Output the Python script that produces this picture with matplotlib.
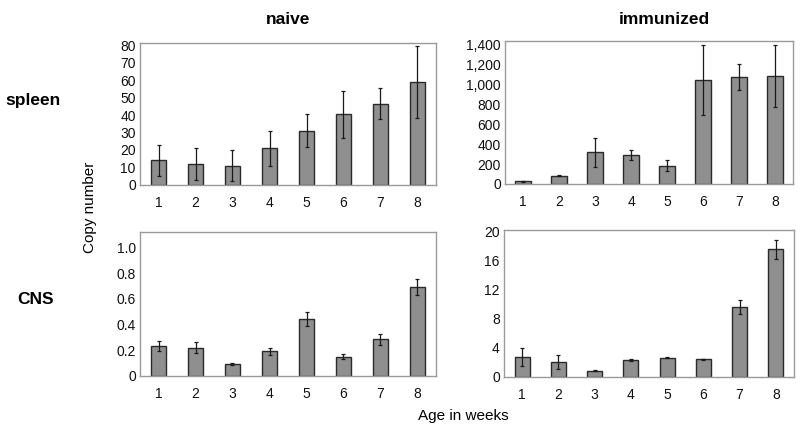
import matplotlib
matplotlib.use("Agg")
import matplotlib.pyplot as plt

plt.rcParams['font.family'] = ['Liberation Sans', 'DejaVu Sans']

weeks = [1, 2, 3, 4, 5, 6, 7, 8]
week_labels = ["1", "2", "3", "4", "5", "6", "7", "8"]

naive_spleen = [14, 12, 11, 21, 31, 40.5, 46.5, 59]
naive_spleen_err = [9, 9, 9, 10, 9.5, 13.5, 9, 20.5]
imm_spleen = [30, 85, 320, 290, 185, 1045, 1075, 1085]
imm_spleen_err = [5, 8, 145, 50, 55, 350, 135, 310]
naive_cns = [0.235, 0.22, 0.09, 0.19, 0.44, 0.15, 0.285, 0.695]
naive_cns_err = [0.04, 0.04, 0.01, 0.03, 0.055, 0.02, 0.045, 0.06]
imm_cns = [2.7, 2.0, 0.85, 2.3, 2.65, 2.4, 9.6, 17.6]
imm_cns_err = [1.2, 1.0, 0.05, 0.08, 0.08, 0.03, 1.0, 1.3]

tl_ticks = [0, 10, 20, 30, 40, 50, 60, 70, 80]
tl_labels = ["0", "10", "20", "30", "40", "50", "60", "70", "80"]
tr_ticks = [0, 200, 400, 600, 800, 1000, 1200, 1400]
tr_labels = ["0", "200", "400", "600", "800", "1,000", "1,200", "1,400"]
bl_ticks = [0, 0.2, 0.4, 0.6, 0.8, 1.0]
bl_labels = ["0", "0.2", "0.4", "0.6", "0.8", "1.0"]
br_ticks = [0, 4, 8, 12, 16, 20]
br_labels = ["0", "4", "8", "12", "16", "20"]

fig = plt.figure(figsize=(8, 4.29), dpi=100)

panels = [
    ([0.175, 0.5688, 0.370, 0.3303], naive_spleen, naive_spleen_err, (0, 81), tl_ticks, tl_labels),
    ([0.63125, 0.5711, 0.360, 0.334], imm_spleen, imm_spleen_err, (0, 1440), tr_ticks, tr_labels),
    ([0.175, 0.1242, 0.370, 0.3357], naive_cns, naive_cns_err, (0, 1.126), bl_ticks, bl_labels),
    ([0.630, 0.1219, 0.3625, 0.342], imm_cns, imm_cns_err, (0, 20.25), br_ticks, br_labels),
]

for rect, vals, errs, ylim, yt, ytl in panels:
    ax = fig.add_axes(rect)
    ax.bar(weeks, vals, width=0.42, color="#8f8f8f", edgecolor="#2a2a2a", linewidth=1.0, zorder=2)
    ax.errorbar(weeks, vals, yerr=errs, fmt="none", ecolor="#1a1a1a", elinewidth=0.9,
                capsize=1.5, capthick=0.9, zorder=3)
    ax.set_xlim(0.5, 8.5)
    ax.set_ylim(*ylim)
    ax.set_xticks(weeks)
    ax.set_xticklabels(week_labels)
    ax.set_yticks(yt)
    ax.set_yticklabels(ytl)
    for s in ax.spines.values():
        s.set_color("#9a9a9a")
        s.set_linewidth(1.0)
    ax.tick_params(axis="both", length=0, labelsize=10, colors="#111111")
    ax.tick_params(axis="x", pad=8)
    ax.tick_params(axis="y", pad=3)

fig.text(288 / 800, 1 - 19 / 429, "naive", ha="center", va="center", fontsize=12.5, fontweight="bold")
fig.text(664 / 800, 1 - 19 / 429, "immunized", ha="center", va="center", fontsize=12.5, fontweight="bold")
fig.text(33 / 800, 1 - 100 / 429, "spleen", ha="center", va="center", fontsize=12.5, fontweight="bold")
fig.text(36 / 800, 1 - 299 / 429, "CNS", ha="center", va="center", fontsize=12.5, fontweight="bold")
fig.text(90 / 800, 1 - 207 / 429, "Copy number", ha="center", va="center", fontsize=11, rotation=90)
fig.text(463 / 800, 1 - 416 / 429, "Age in weeks", ha="center", va="center", fontsize=11)

fig.savefig("out.png", dpi=100)
